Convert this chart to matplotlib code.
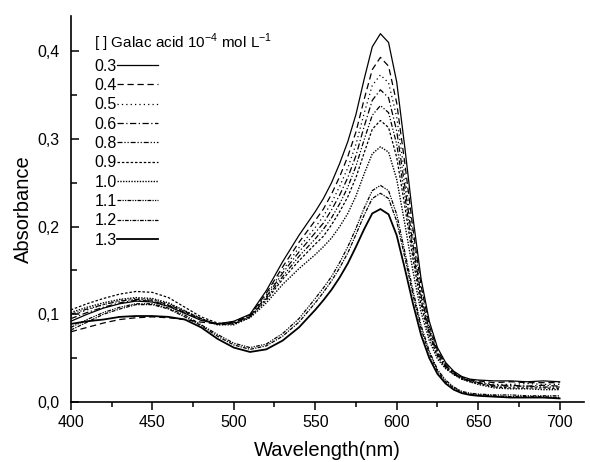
import matplotlib
matplotlib.use("Agg")
import matplotlib.pyplot as plt
from matplotlib.ticker import MultipleLocator, FuncFormatter

plt.rcParams['font.family'] = ['Liberation Sans', 'DejaVu Sans']
plt.rcParams['mathtext.fontset'] = 'custom'
plt.rcParams['mathtext.rm'] = 'Liberation Sans'

wavelength = [400, 410, 420, 430, 440, 450, 460, 470, 480, 490,
              500, 510, 520, 530, 540, 550, 555, 560, 565, 570,
              575, 580, 585, 590, 595, 600, 605, 610, 615, 620,
              625, 630, 635, 640, 645, 650, 660, 670, 680, 690, 700]

concentrations = ["0.3", "0.4", "0.5", "0.6", "0.8", "0.9", "1.0", "1.1", "1.2", "1.3"]

abs_03 = [0.092, 0.100, 0.107, 0.112, 0.115, 0.114, 0.109, 0.101, 0.093, 0.089,
          0.092, 0.100, 0.127, 0.160, 0.190, 0.217, 0.232, 0.250, 0.272, 0.297,
          0.328, 0.368, 0.405, 0.420, 0.410, 0.365, 0.290, 0.210, 0.140, 0.092,
          0.062, 0.045, 0.035, 0.029, 0.026, 0.025, 0.024, 0.024, 0.023, 0.024, 0.023]
abs_04 = [0.080, 0.085, 0.090, 0.094, 0.096, 0.097, 0.096, 0.094, 0.091, 0.089,
          0.091, 0.099, 0.124, 0.154, 0.182, 0.207, 0.220, 0.237, 0.257, 0.280,
          0.308, 0.345, 0.379, 0.393, 0.383, 0.341, 0.272, 0.197, 0.132, 0.087,
          0.059, 0.043, 0.034, 0.028, 0.025, 0.024, 0.022, 0.023, 0.022, 0.022, 0.022]
abs_05 = [0.098, 0.105, 0.111, 0.116, 0.118, 0.117, 0.112, 0.104, 0.095, 0.089,
          0.090, 0.099, 0.122, 0.150, 0.176, 0.199, 0.212, 0.227, 0.246, 0.267,
          0.294, 0.329, 0.361, 0.373, 0.364, 0.325, 0.258, 0.188, 0.126, 0.084,
          0.057, 0.042, 0.033, 0.028, 0.025, 0.023, 0.020, 0.020, 0.021, 0.020, 0.020]
abs_06 = [0.095, 0.102, 0.108, 0.113, 0.116, 0.115, 0.110, 0.102, 0.094, 0.089,
          0.090, 0.098, 0.120, 0.147, 0.171, 0.193, 0.204, 0.219, 0.236, 0.256,
          0.281, 0.314, 0.344, 0.356, 0.347, 0.309, 0.246, 0.179, 0.121, 0.081,
          0.056, 0.041, 0.033, 0.027, 0.024, 0.022, 0.019, 0.019, 0.018, 0.019, 0.018]
abs_08 = [0.100, 0.106, 0.111, 0.115, 0.117, 0.116, 0.111, 0.103, 0.095, 0.088,
          0.089, 0.097, 0.118, 0.143, 0.166, 0.186, 0.197, 0.210, 0.226, 0.245,
          0.269, 0.299, 0.327, 0.338, 0.330, 0.294, 0.235, 0.171, 0.116, 0.078,
          0.054, 0.040, 0.032, 0.027, 0.024, 0.022, 0.018, 0.018, 0.018, 0.017, 0.017]
abs_09 = [0.105, 0.112, 0.118, 0.123, 0.126, 0.125, 0.119, 0.108, 0.097, 0.090,
          0.089, 0.097, 0.116, 0.140, 0.161, 0.180, 0.189, 0.202, 0.217, 0.234,
          0.256, 0.284, 0.311, 0.321, 0.313, 0.279, 0.223, 0.163, 0.110, 0.075,
          0.052, 0.039, 0.032, 0.026, 0.023, 0.021, 0.017, 0.016, 0.016, 0.016, 0.015]
abs_10 = [0.102, 0.108, 0.113, 0.117, 0.119, 0.118, 0.113, 0.104, 0.095, 0.088,
          0.088, 0.096, 0.113, 0.134, 0.152, 0.168, 0.177, 0.187, 0.200, 0.215,
          0.235, 0.260, 0.283, 0.291, 0.285, 0.254, 0.203, 0.149, 0.102, 0.070,
          0.049, 0.038, 0.031, 0.026, 0.023, 0.020, 0.016, 0.015, 0.015, 0.014, 0.014]
abs_11 = [0.085, 0.094, 0.102, 0.108, 0.112, 0.112, 0.107, 0.099, 0.088, 0.077,
          0.067, 0.062, 0.066, 0.078, 0.095, 0.118, 0.130, 0.143, 0.159, 0.177,
          0.198, 0.221, 0.241, 0.247, 0.241, 0.214, 0.171, 0.127, 0.087, 0.058,
          0.037, 0.025, 0.017, 0.012, 0.010, 0.009, 0.008, 0.008, 0.007, 0.007, 0.007]
abs_12 = [0.082, 0.091, 0.100, 0.106, 0.111, 0.111, 0.106, 0.097, 0.087, 0.075,
          0.065, 0.060, 0.064, 0.075, 0.091, 0.113, 0.125, 0.138, 0.153, 0.170,
          0.191, 0.213, 0.232, 0.238, 0.232, 0.206, 0.165, 0.122, 0.083, 0.055,
          0.035, 0.023, 0.016, 0.011, 0.009, 0.008, 0.007, 0.006, 0.006, 0.006, 0.005]
abs_13 = [0.089, 0.092, 0.094, 0.097, 0.098, 0.098, 0.097, 0.094, 0.085, 0.072,
          0.062, 0.057, 0.060, 0.070, 0.085, 0.105, 0.116, 0.128, 0.142, 0.158,
          0.177, 0.197, 0.215, 0.220, 0.214, 0.190, 0.152, 0.112, 0.076, 0.050,
          0.032, 0.021, 0.014, 0.010, 0.008, 0.007, 0.006, 0.005, 0.005, 0.005, 0.004]

series = [abs_03, abs_04, abs_05, abs_06, abs_08, abs_09, abs_10, abs_11, abs_12, abs_13]

styles = [
    dict(linestyle='-', linewidth=0.9),
    dict(linestyle=(0, (5, 3)), linewidth=0.9),
    dict(linestyle=(0, (1, 2.5)), linewidth=0.9),
    dict(linestyle=(0, (5, 2, 1, 2)), linewidth=0.9),
    dict(linestyle=(0, (4, 1.5, 1, 1.5, 1, 1.5)), linewidth=0.9),
    dict(linestyle=(0, (2, 1.5)), linewidth=0.9),
    dict(linestyle=(0, (1, 1)), linewidth=1.0),
    dict(linestyle=(0, (3, 1, 1, 1, 1, 1)), linewidth=0.9),
    dict(linestyle=(0, (3, 1, 1, 1)), linewidth=0.9),
    dict(linestyle='-', linewidth=1.3),
]

fig = plt.figure(figsize=(5.9, 4.62), dpi=100)
ax = fig.add_axes([0.12, 0.13, 0.87, 0.835])

for conc, vals, st in zip(concentrations, series, styles):
    ax.plot(wavelength, vals, color='black', label=conc, **st)

ax.set_xlim(400, 715)
ax.set_ylim(0, 0.44)
ax.xaxis.set_major_locator(MultipleLocator(50))
ax.xaxis.set_minor_locator(MultipleLocator(25))
ax.yaxis.set_major_locator(MultipleLocator(0.1))
ax.yaxis.set_minor_locator(MultipleLocator(0.05))
ax.yaxis.set_major_formatter(FuncFormatter(lambda v, p: f"{v:.1f}".replace('.', ',')))

for s in ['top', 'right']:
    ax.spines[s].set_visible(False)
for s in ['left', 'bottom']:
    ax.spines[s].set_linewidth(1.2)

ax.tick_params(axis='x', which='major', direction='out', length=6, width=1.1, labelsize=11.5)
ax.tick_params(axis='x', which='minor', direction='out', length=3.5, width=1.1)
ax.tick_params(axis='y', which='major', direction='in', length=6, width=1.1, labelsize=11.5, pad=8)
ax.tick_params(axis='y', which='minor', direction='in', length=4, width=1.1)

ax.set_xlabel('Wavelength(nm)', fontsize=14.5, labelpad=8)
ax.set_ylabel('Absorbance', fontsize=14.5, labelpad=3)

leg = ax.legend(loc='upper left', bbox_to_anchor=(0.0145, 1.0), frameon=False,
                markerfirst=False, title='[ ] Galac acid 10$^{-4}$ mol L$^{-1}$',
                fontsize=11.5, title_fontsize=11, handlelength=2.6, handletextpad=0.0,
                labelspacing=0.27, borderaxespad=0.6, borderpad=0.4)
leg._legend_box.align = 'left'

fig.savefig('out.png', dpi=100)
